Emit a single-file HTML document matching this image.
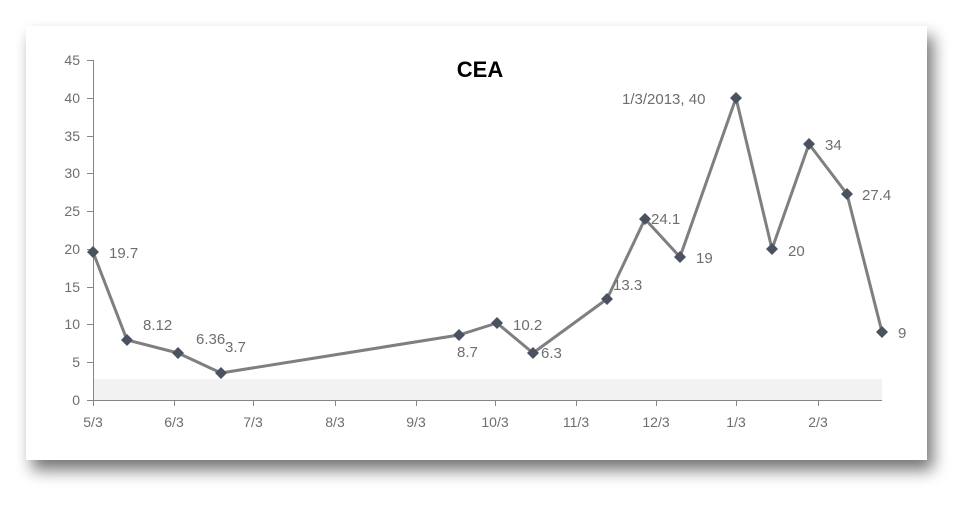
<!DOCTYPE html>
<html><head><style>
body{margin:0;background:#fff;}
</style></head><body>
<svg width="979" height="513" xmlns="http://www.w3.org/2000/svg" style="display:block">
<defs>
<filter id="sh" x="-5%" y="-5%" width="115%" height="125%">
<feGaussianBlur in="SourceAlpha" stdDeviation="8"/>
<feOffset dx="6" dy="10"/>
<feComponentTransfer><feFuncA type="linear" slope="0.55"/></feComponentTransfer>
<feMerge><feMergeNode/><feMergeNode in="SourceGraphic"/></feMerge>
</filter>
</defs>
<rect x="26" y="26" width="901" height="434" fill="#fff" filter="url(#sh)"/>
<rect x="93" y="379" width="789" height="21" fill="#f2f2f2"/>
<g stroke="#868686" stroke-width="1" fill="none">
<line x1="93.5" y1="60" x2="93.5" y2="400"/>
<line x1="93" y1="400.5" x2="882" y2="400.5"/>
<path d="M87 60.5h6M87 98.5h6M87 136.5h6M87 173.5h6M87 211.5h6M87 249.5h6M87 287.5h6M87 324.5h6M87 362.5h6M87 400.5h6"/>
<path d="M93.5 400v6M174.5 400v6M253.5 400v6M335.5 400v6M416.5 400v6M495.5 400v6M576.5 400v6M656.5 400v6M736.5 400v6M818.5 400v6"/>
</g>
<g font-family="Liberation Sans, sans-serif" font-size="14" fill="#6e6e6e" text-anchor="end">
<text x="80" y="65">45</text><text x="80" y="103">40</text><text x="80" y="141">35</text><text x="80" y="178">30</text><text x="80" y="216">25</text><text x="80" y="254">20</text><text x="80" y="292">15</text><text x="80" y="329">10</text><text x="80" y="367">5</text><text x="80" y="405">0</text>
</g>
<g font-family="Liberation Sans, sans-serif" font-size="14" fill="#6e6e6e" text-anchor="middle">
<text x="93" y="427">5/3</text><text x="174" y="427">6/3</text><text x="253" y="427">7/3</text><text x="335" y="427">8/3</text><text x="416" y="427">9/3</text><text x="495" y="427">10/3</text><text x="576" y="427">11/3</text><text x="656" y="427">12/3</text><text x="736" y="427">1/3</text><text x="818" y="427">2/3</text>
</g>
<text x="480" y="77" font-family="Liberation Sans, sans-serif" font-size="22" font-weight="bold" text-anchor="middle" fill="#000">CEA</text>
<polyline fill="none" stroke="#7f7f7f" stroke-width="3" stroke-linejoin="round" points="93,252 127,340 178,353 221,373 459,335 497,323 533,353 607,299 645,219 680,257 736,98 772,249 809,144 847,194 882,332"/>
<g fill="#4a5260">
<path d="M93 246l6 6-6 6-6-6z"/><path d="M127 334l6 6-6 6-6-6z"/><path d="M178 347l6 6-6 6-6-6z"/><path d="M221 367l6 6-6 6-6-6z"/><path d="M459 329l6 6-6 6-6-6z"/><path d="M497 317l6 6-6 6-6-6z"/><path d="M533 347l6 6-6 6-6-6z"/><path d="M607 293l6 6-6 6-6-6z"/><path d="M645 213l6 6-6 6-6-6z"/><path d="M680 251l6 6-6 6-6-6z"/><path d="M736 92l6 6-6 6-6-6z"/><path d="M772 243l6 6-6 6-6-6z"/><path d="M809 138l6 6-6 6-6-6z"/><path d="M847 188l6 6-6 6-6-6z"/><path d="M882 326l6 6-6 6-6-6z"/>
</g>
<g font-family="Liberation Sans, sans-serif" font-size="15" fill="#6e6e6e">
<text x="109" y="258">19.7</text><text x="143" y="330">8.12</text><text x="196" y="344">6.36</text><text x="225" y="352">3.7</text><text x="457" y="357">8.7</text><text x="513" y="330">10.2</text><text x="541" y="358">6.3</text><text x="613" y="290">13.3</text><text x="651" y="224">24.1</text><text x="696" y="263">19</text><text x="622" y="104">1/3/2013, 40</text><text x="788" y="256">20</text><text x="825" y="150">34</text><text x="862" y="200">27.4</text><text x="898" y="338">9</text>
</g>
</svg>
</body></html>
